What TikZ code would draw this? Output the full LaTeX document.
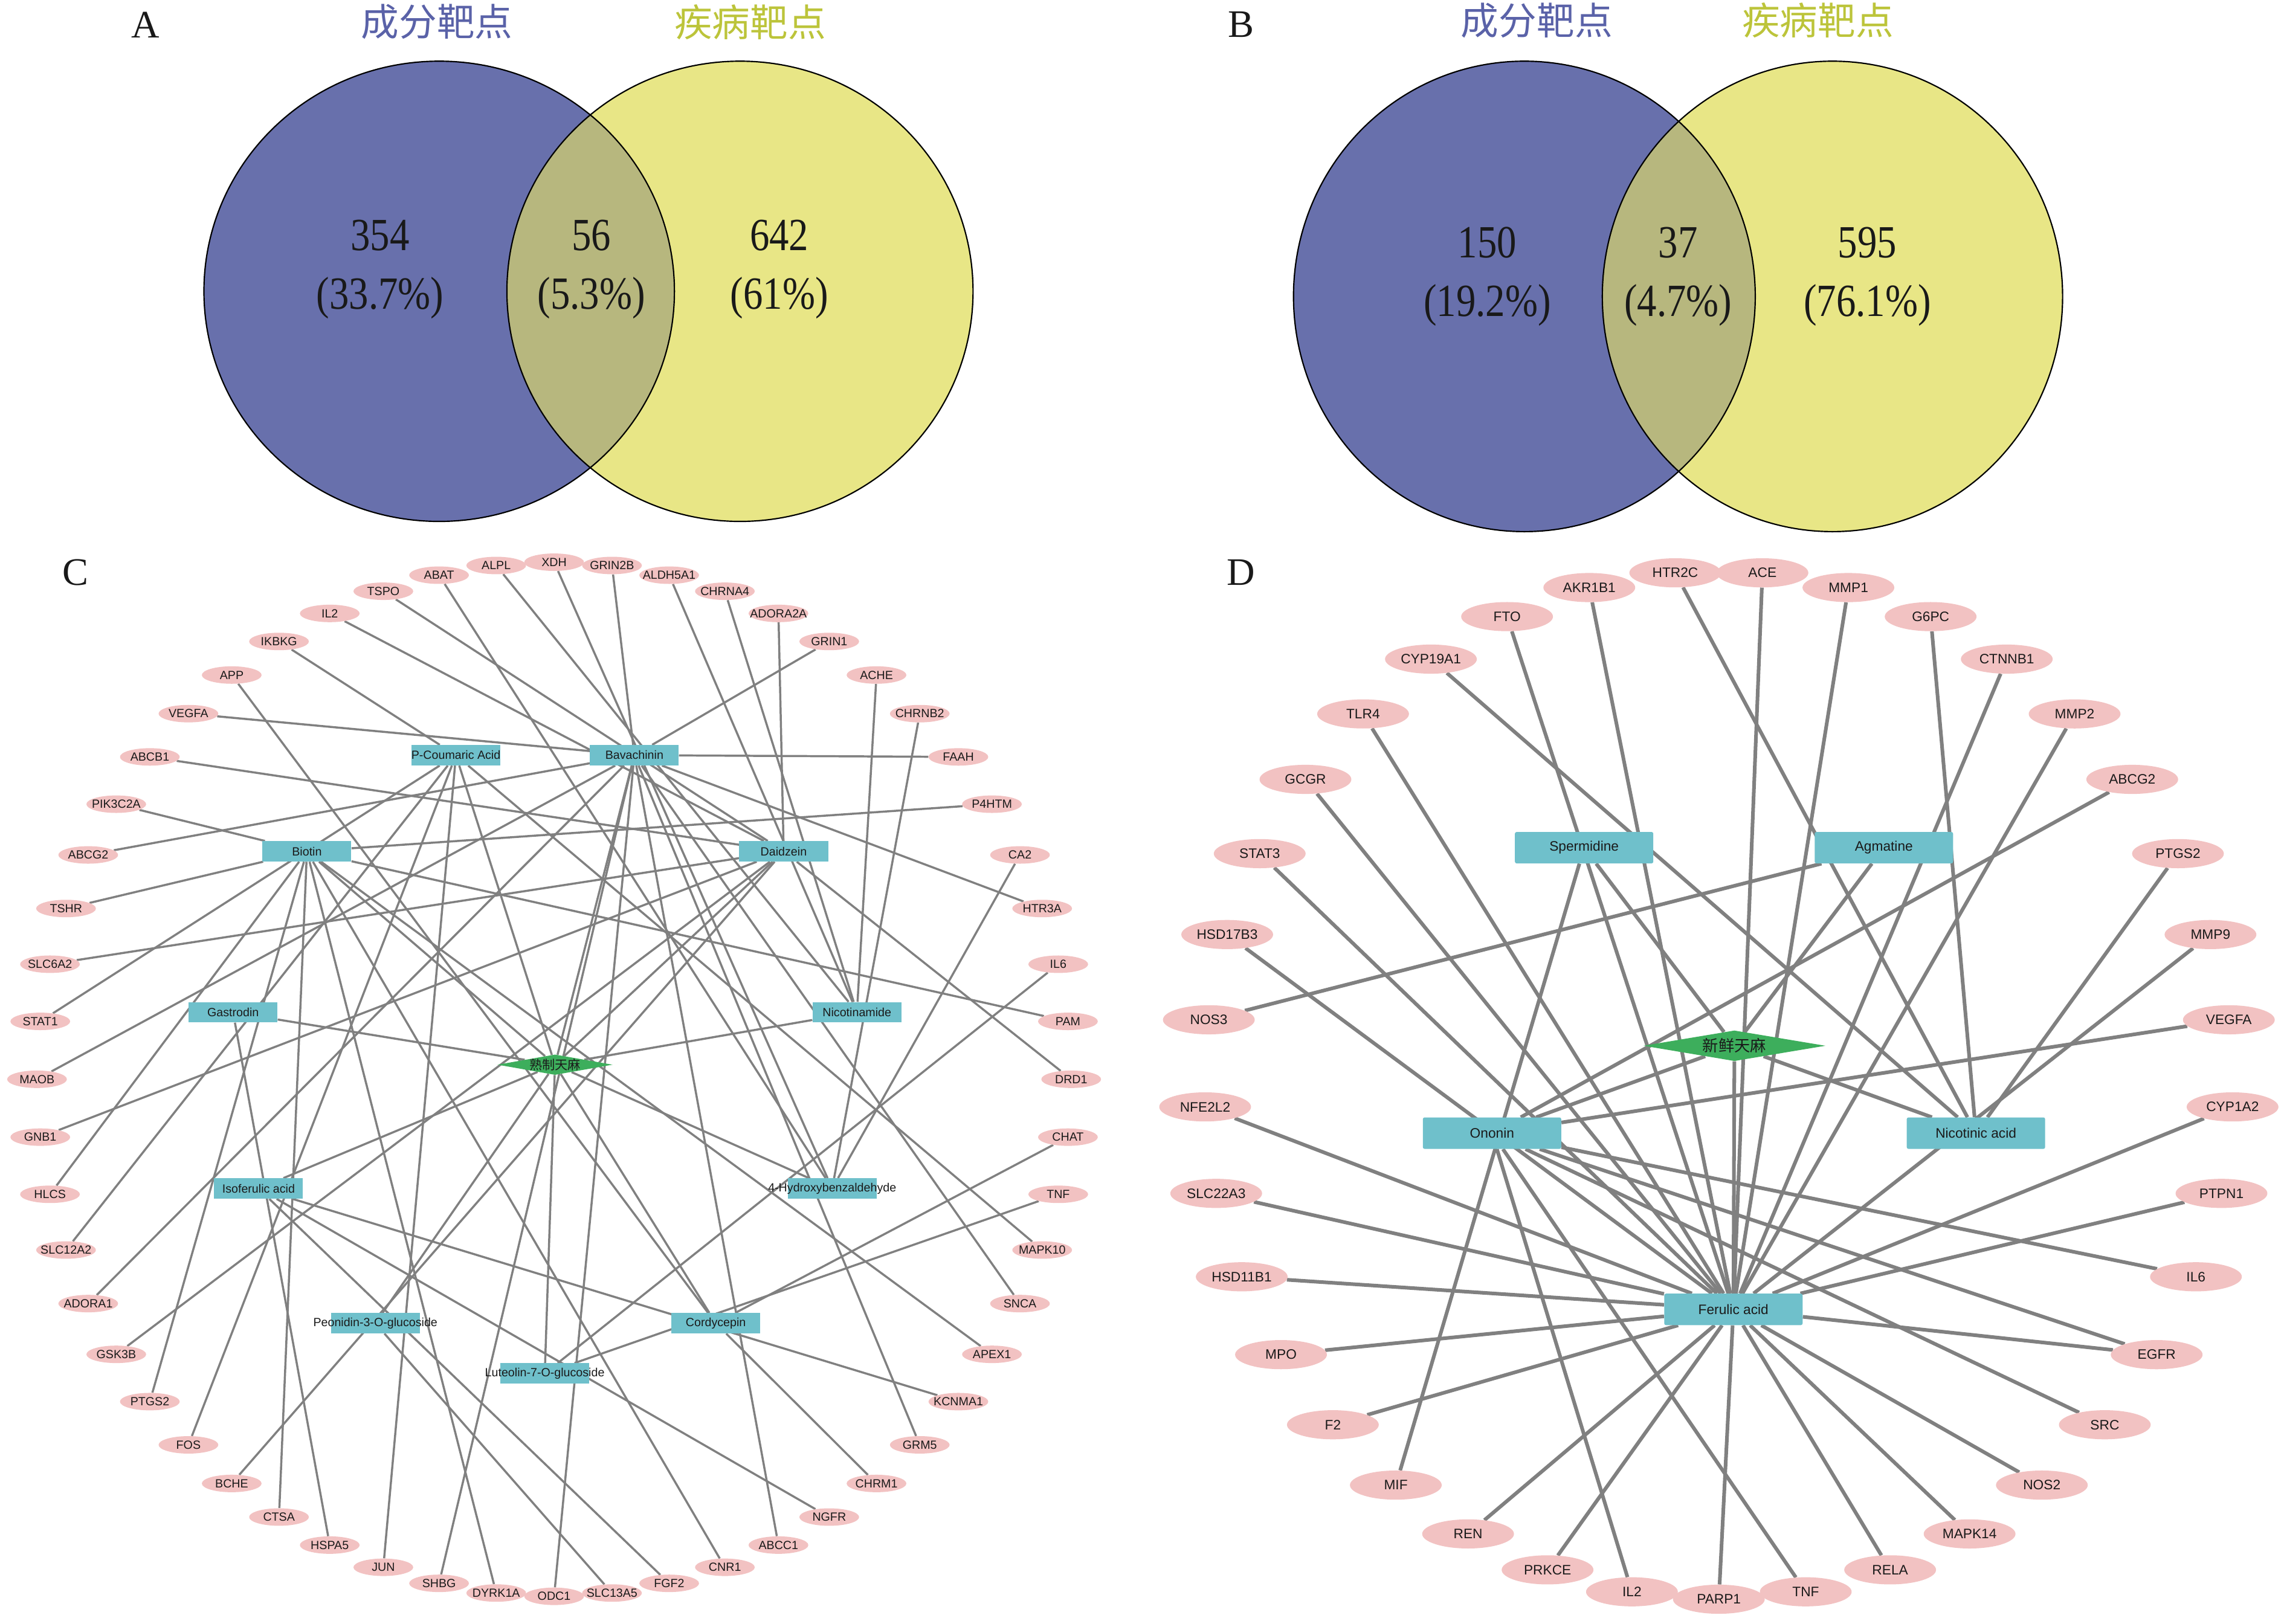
\documentclass[tikz,border=0pt]{standalone}
\usepackage{fontspec}
\setmainfont{Liberation Serif}
\newfontfamily\sansf{Liberation Sans}
\newfontfamily\numf[FakeStretch=0.85]{Liberation Serif}
\newfontfamily\cjkf{Noto Sans CJK SC}
\usetikzlibrary{shapes.geometric}
\pgfdeclarelayer{bg}
\pgfsetlayers{bg,main}
\definecolor{vblue}{HTML}{6870AC}
\definecolor{vyellow}{HTML}{E8E686}
\definecolor{volive}{HTML}{B7B77E}
\definecolor{tblue}{HTML}{5A62A8}
\definecolor{tyellow}{HTML}{BCC43A}
\definecolor{gpink}{HTML}{F2C2C2}
\definecolor{cteal}{HTML}{6FC0CB}
\definecolor{hgreen}{HTML}{3DAE5C}
\definecolor{egray}{HTML}{808080}
\definecolor{ntext}{HTML}{1A1A1A}
\newcommand\zb[1]{\makebox[0pt]{#1}}
\begin{document}
\begin{tikzpicture}[x=0.5mm,y=-0.5mm,
  cgene/.style={ellipse, fill=gpink, minimum width=20.5mm, minimum height=6mm, inner sep=0pt, text=ntext, font=\sansf\fontsize{11.6}{12}\selectfont},
  ccomp/.style={rectangle, fill=cteal, minimum width=30.5mm, minimum height=7mm, inner sep=0pt, text=ntext, font=\sansf\fontsize{11.6}{12}\selectfont},
  dgene/.style={ellipse, fill=gpink, minimum width=31.5mm, minimum height=10mm, inner sep=0pt, text=ntext, font=\sansf\fontsize{13.4}{14}\selectfont},
  dcomp/.style={rectangle, rounded corners=0.6mm, fill=cteal, minimum width=47.5mm, minimum height=10.8mm, inner sep=0pt, text=ntext, font=\sansf\fontsize{13.4}{14}\selectfont},
  cherb/.style={diamond, aspect=5.6, fill=hgreen, minimum width=39.5mm, minimum height=7mm, inner sep=0pt},
  dherb/.style={diamond, aspect=6, fill=hgreen, minimum width=62.5mm, minimum height=10.5mm, inner sep=0pt},
  clab/.style={font=\cjkf\fontsize{12.5}{13}\selectfont, text=ntext},
  dlab/.style={font=\cjkf\fontsize{15.5}{16}\selectfont, text=ntext},
  cedge/.style={draw=egray, line width=0.72mm},
  dedge/.style={draw=egray, line width=1.25mm},
  vnum/.style={anchor=base, font=\numf\fontsize{45}{50}\selectfont, text=black!90},
  vtitle/.style={font=\cjkf\fontsize{37}{40}\selectfont},
  panel/.style={font=\fontsize{38}{40}\selectfont, text=black!90},
  vline/.style={draw=black, line width=0.45mm}
]
\useasboundingbox (0,0) rectangle (1568,1115);

% ---------------- Venn A ----------------
\node[panel] (pA) at (100,17) {A};
\fill[vblue] (301.5,200) ellipse [x radius=161.5, y radius=158];
\fill[vyellow] (508,200) ellipse [x radius=160, y radius=158];
\begin{scope}
  \clip (301.5,200) ellipse [x radius=161.5, y radius=158];
  \fill[volive] (508,200) ellipse [x radius=160, y radius=158];
\end{scope}
\draw[vline] (301.5,200) ellipse [x radius=161.5, y radius=158];
\draw[vline] (508,200) ellipse [x radius=160, y radius=158];
\node[vtitle, text=tblue] (tA1) at (300,15) {成分靶点};
\node[vtitle, text=tyellow] (tA2) at (515,15) {疾病靶点};
\node[vnum] (a1) at (261,172) {354};
\node[vnum] (a2) at (261,212) {(33.7\%)};
\node[vnum] (a3) at (406,172) {56};
\node[vnum] (a4) at (406,212) {(5.3\%)};
\node[vnum] (a5) at (535,172) {642};
\node[vnum] (a6) at (535,212) {(61\%)};

% ---------------- Venn B ----------------
\node[panel] (pB) at (852,17) {B};
\fill[vblue] (1046.5,203.5) ellipse [x radius=158.5, y radius=161.5];
\fill[vyellow] (1258,203.5) ellipse [x radius=158, y radius=161.5];
\begin{scope}
  \clip (1046.5,203.5) ellipse [x radius=158.5, y radius=161.5];
  \fill[volive] (1258,203.5) ellipse [x radius=158, y radius=161.5];
\end{scope}
\draw[vline] (1046.5,203.5) ellipse [x radius=158.5, y radius=161.5];
\draw[vline] (1258,203.5) ellipse [x radius=158, y radius=161.5];
\node[vtitle, text=tblue] (tB1) at (1055,14) {成分靶点};
\node[vtitle, text=tyellow] (tB2) at (1248,14) {疾病靶点};
\node[vnum] (b1) at (1021,177) {150};
\node[vnum] (b2) at (1021,217) {(19.2\%)};
\node[vnum] (b3) at (1152,177) {37};
\node[vnum] (b4) at (1152,217) {(4.7\%)};
\node[vnum] (b5) at (1282,177) {595};
\node[vnum] (b6) at (1282,217) {(76.1\%)};

% ---------------- Network C ----------------
\node[panel] (pC) at (52,393) {C};
\foreach \g [count=\k from 0] in {XDH,GRIN2B,ALDH5A1,CHRNA4,ADORA2A,GRIN1,ACHE,CHRNB2,FAAH,P4HTM,CA2,HTR3A,IL6,PAM,DRD1,CHAT,TNF,MAPK10,SNCA,APEX1,KCNMA1,GRM5,CHRM1,NGFR,ABCC1,CNR1,FGF2,SLC13A5,ODC1,DYRK1A,SHBG,JUN,HSPA5,CTSA,BCHE,FOS,PTGS2,GSK3B,ADORA1,SLC12A2,HLCS,GNB1,MAOB,STAT1,SLC6A2,TSHR,ABCG2,PIK3C2A,ABCB1,VEGFA,APP,IKBKG,IL2,TSPO,ABAT,ALPL}
  \node[cgene] (c\g) at ({380.4+355*sin(\k*6.428571)},{741-355*cos(\k*6.428571)}) {\zb{\g}};
\node[ccomp] (cPC) at (313,518.5) {\zb{P-Coumaric Acid}};
\node[ccomp] (cBav) at (435.5,518.5) {\zb{Bavachinin}};
\node[ccomp] (cDai) at (538,584.5) {\zb{Daidzein}};
\node[ccomp] (cNic) at (588.3,695) {\zb{Nicotinamide}};
\node[ccomp] (cHB) at (571.3,816) {\zb{4-Hydroxybenzaldehyde}};
\node[ccomp] (cCor) at (491.4,908.5) {\zb{Cordycepin}};
\node[ccomp] (cLut) at (374,943) {\zb{Luteolin-7-O-glucoside}};
\node[ccomp] (cPeo) at (257.7,908.5) {\zb{Peonidin-3-O-glucoside}};
\node[ccomp] (cIso) at (177.5,816) {\zb{Isoferulic acid}};
\node[ccomp] (cGas) at (160,695) {\zb{Gastrodin}};
\node[ccomp] (cBio) at (210.7,584.5) {\zb{Biotin}};
\node[cherb, label={[clab]center:熟制天麻}] (cH) at (381,731) {};

% ---------------- Network D ----------------
\node[panel] (pD) at (852,393) {D};
\foreach \g [count=\k from 0] in {ACE,MMP1,G6PC,CTNNB1,MMP2,ABCG2,PTGS2,MMP9,VEGFA,CYP1A2,PTPN1,IL6,EGFR,SRC,NOS2,MAPK14,RELA,TNF,PARP1,IL2,PRKCE,REN,MIF,F2,MPO,HSD11B1,SLC22A3,NFE2L2,NOS3,HSD17B3,STAT3,GCGR,TLR4,CYP19A1,FTO,AKR1B1,HTR2C}
  \node[dgene] (d\g) at ({1180+353*sin(4.865+\k*9.72973)},{745-353*cos(4.865+\k*9.72973)}) {\zb{\g}};
\node[dcomp] (dSp) at (1087.5,582) {\zb{Spermidine}};
\node[dcomp] (dAg) at (1293.3,582) {\zb{Agmatine}};
\node[dcomp] (dOn) at (1024.3,778) {\zb{Ononin}};
\node[dcomp] (dNi) at (1356.5,778) {\zb{Nicotinic acid}};
\node[dcomp] (dFe) at (1190,899) {\zb{Ferulic acid}};
\node[dherb, label={[dlab]center:新鲜天麻}] (dH) at (1190.7,718) {};

% ---------------- Edges ----------------
\begin{pgfonlayer}{bg}
\foreach \a in {PC,Bav,Dai,Nic,HB,Cor,Lut,Peo,Iso,Gas,Bio}
  \draw[cedge] (cH) -- (c\a);
\foreach \a/\b in {XDH/HB,GRIN2B/Bav,ALDH5A1/Nic,CHRNA4/Nic,ADORA2A/Dai,GRIN1/Bav,ACHE/Nic,CHRNB2/HB,FAAH/Bav,P4HTM/Bio,CA2/HB,HTR3A/Bav,IL6/Lut,PAM/Bio,DRD1/Dai,CHAT/Cor,TNF/Lut,MAPK10/PC,SNCA/Bav,APEX1/Bio,KCNMA1/Iso,GRM5/Bav,CHRM1/Cor,NGFR/Iso,ABCC1/Bav,CNR1/Bio,FGF2/Iso,SLC13A5/Peo,ODC1/Bav,DYRK1A/Bio,SHBG/Bav,JUN/PC,HSPA5/Gas,CTSA/Bio,BCHE/Dai,FOS/PC,PTGS2/Bio,GSK3B/Dai,ADORA1/Bav,SLC12A2/PC,HLCS/Bio,GNB1/Dai,MAOB/Bav,STAT1/PC,SLC6A2/Dai,TSHR/Bio,ABCG2/Bav,PIK3C2A/Bio,ABCB1/Dai,VEGFA/Bav,APP/Cor,IKBKG/PC,IL2/Dai,TSPO/Dai,ABAT/HB,ALPL/Nic}
  \draw[cedge] (c\a) -- (c\b);
\foreach \a in {Sp,Ag,On,Ni,Fe}
  \draw[dedge] (dH) -- (d\a);
\foreach \a/\b in {ACE/Fe,MMP1/Fe,G6PC/Ni,CTNNB1/Fe,MMP2/Fe,ABCG2/On,PTGS2/Ni,MMP9/Fe,VEGFA/On,CYP1A2/Fe,PTPN1/Fe,IL6/On,EGFR/Fe,EGFR/On,SRC/On,NOS2/Fe,MAPK14/Fe,RELA/Fe,TNF/On,PARP1/Fe,IL2/On,PRKCE/Fe,REN/Fe,MIF/Sp,F2/Fe,MPO/Fe,HSD11B1/Fe,SLC22A3/Fe,NFE2L2/Fe,NOS3/Ag,HSD17B3/Fe,STAT3/Fe,GCGR/Fe,TLR4/Fe,CYP19A1/Ni,FTO/Fe,AKR1B1/Fe,HTR2C/Ni}
  \draw[dedge] (d\a) -- (d\b);
\end{pgfonlayer}
\end{tikzpicture}
\end{document}
